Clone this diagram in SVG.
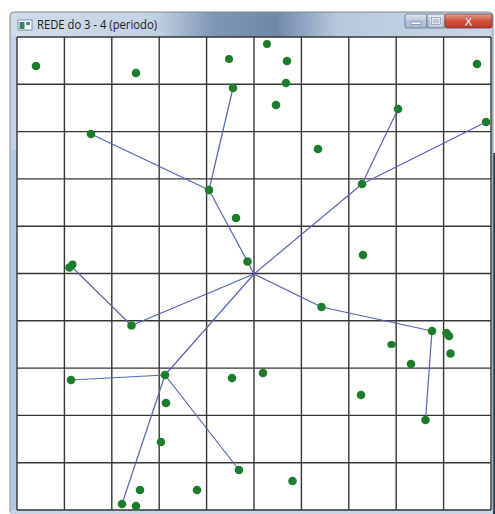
<svg xmlns="http://www.w3.org/2000/svg" width="495" height="514" viewBox="0 0 495 514">
<defs>
<linearGradient id="title" x1="0" y1="0" x2="1" y2="0">
<stop offset="0" stop-color="#cfdcea"/>
<stop offset="0.3" stop-color="#c3d2e3"/>
<stop offset="0.42" stop-color="#7f97b6"/>
<stop offset="0.55" stop-color="#6f88aa"/>
<stop offset="0.68" stop-color="#b9c9dc"/>
<stop offset="1" stop-color="#c9d7e6"/>
</linearGradient>
<linearGradient id="closeg" x1="0" y1="0" x2="0" y2="1">
<stop offset="0" stop-color="#e8a090"/>
<stop offset="0.5" stop-color="#d0503c"/>
<stop offset="1" stop-color="#c03a28"/>
</linearGradient>
<linearGradient id="btng" x1="0" y1="0" x2="0" y2="1">
<stop offset="0" stop-color="#dfe8f2"/>
<stop offset="0.5" stop-color="#b6c6d8"/>
<stop offset="1" stop-color="#a8bacd"/>
</linearGradient>
</defs>
<style>
.grid line{stroke:#363636;stroke-width:1.4}
.edge{stroke:#5565b5;stroke-width:1.2;fill:none}
.dot{fill:#1e7d2c}
.ttl{font-family:"Open Sans","Noto Sans","Liberation Sans",sans-serif;font-size:12px;fill:#1a1a1a}
</style>
<rect width="495" height="514" fill="#ffffff"/>
<!-- window frame -->
<rect x="493" y="153" width="2" height="361" fill="#2b3b4e"/>
<rect x="10" y="12" width="483" height="502" rx="4" fill="url(#title)" stroke="#7a8898" stroke-width="1"/>
<rect x="11" y="36" width="6" height="478" fill="#c3d3e4"/>
<rect x="11" y="150" width="6" height="364" fill="#b3c8de"/>
<rect x="11" y="510" width="482" height="4" fill="#c6d4e3"/>
<!-- title -->
<g id="titlebar">
<rect x="18" y="20" width="14" height="10" fill="#ffffff" stroke="#7890a8" stroke-width="1"/>
<rect x="19.5" y="22" width="5" height="7" fill="#2e8a5a"/>
<rect x="26" y="22" width="4" height="3" fill="#4a7fc0"/>
<text class="ttl" x="37" y="29" textLength="120" lengthAdjust="spacingAndGlyphs">REDE do 3 - 4 (periodo)</text>
<rect x="405" y="14" width="22" height="14" rx="2" fill="url(#btng)" stroke="#5d6f85" stroke-width="0.8"/>
<rect x="411" y="22" width="10" height="2.5" fill="#ffffff" stroke="#44556a" stroke-width="0.5"/>
<rect x="427" y="14" width="18" height="14" rx="1" fill="url(#btng)" stroke="#5d6f85" stroke-width="0.8"/>
<rect x="431.5" y="17.5" width="9" height="7" fill="none" stroke="#ffffff" stroke-width="2"/>
<rect x="431.5" y="17.5" width="9" height="7" fill="none" stroke="#44556a" stroke-width="0.5"/>
<rect x="445" y="14" width="47" height="14" rx="2" fill="url(#closeg)" stroke="#6a3a35" stroke-width="0.8"/>
<text x="468.5" y="26" text-anchor="middle" font-family="Liberation Sans,sans-serif" font-size="12" font-weight="bold" fill="#ffffff" stroke="#6a2a20" stroke-width="0.4">X</text>
</g>
<!-- client area -->
<rect x="17" y="37" width="474" height="473" fill="#ffffff"/>
<g class="grid">
<line x1="17" y1="37" x2="17" y2="510"/>
<line x1="64.4" y1="37" x2="64.4" y2="510"/>
<line x1="111.8" y1="37" x2="111.8" y2="510"/>
<line x1="159.2" y1="37" x2="159.2" y2="510"/>
<line x1="206.6" y1="37" x2="206.6" y2="510"/>
<line x1="254" y1="37" x2="254" y2="510"/>
<line x1="301.4" y1="37" x2="301.4" y2="510"/>
<line x1="348.8" y1="37" x2="348.8" y2="510"/>
<line x1="396.2" y1="37" x2="396.2" y2="510"/>
<line x1="443.6" y1="37" x2="443.6" y2="510"/>
<line x1="491" y1="37" x2="491" y2="510"/>
<line x1="17" y1="37" x2="491" y2="37"/>
<line x1="17" y1="84.3" x2="491" y2="84.3"/>
<line x1="17" y1="131.6" x2="491" y2="131.6"/>
<line x1="17" y1="178.9" x2="491" y2="178.9"/>
<line x1="17" y1="226.2" x2="491" y2="226.2"/>
<line x1="17" y1="273.5" x2="491" y2="273.5"/>
<line x1="17" y1="320.8" x2="491" y2="320.8"/>
<line x1="17" y1="368.1" x2="491" y2="368.1"/>
<line x1="17" y1="415.4" x2="491" y2="415.4"/>
<line x1="17" y1="462.7" x2="491" y2="462.7"/>
<line x1="17" y1="510" x2="491" y2="510"/>
</g>
<g id="connectors">
<line class="edge" x1="254" y1="274" x2="247.5" y2="261.5"/>
<line class="edge" x1="247.5" y1="261.5" x2="209" y2="190"/>
<line class="edge" x1="209" y1="190" x2="91" y2="134"/>
<line class="edge" x1="209" y1="190" x2="233" y2="88"/>
<line class="edge" x1="254" y1="274" x2="362" y2="184"/>
<line class="edge" x1="362" y1="184" x2="398" y2="109"/>
<line class="edge" x1="362" y1="184" x2="486" y2="122"/>
<line class="edge" x1="254" y1="274" x2="131.5" y2="325.5"/>
<line class="edge" x1="131.5" y1="325.5" x2="71" y2="266"/>
<line class="edge" x1="254" y1="274" x2="165" y2="375"/>
<line class="edge" x1="165" y1="375" x2="71" y2="380"/>
<line class="edge" x1="165" y1="375" x2="239" y2="470"/>
<line class="edge" x1="165" y1="375" x2="122" y2="504"/>
<line class="edge" x1="254" y1="274" x2="321.5" y2="307"/>
<line class="edge" x1="321.5" y1="307" x2="432" y2="331"/>
<line class="edge" x1="432" y1="331" x2="425.5" y2="420"/>
</g>
<g id="n1"><circle class="dot" cx="36" cy="66" r="4.3"/></g>
<g id="n2"><circle class="dot" cx="136" cy="73" r="4.3"/></g>
<g id="n3"><circle class="dot" cx="229" cy="59" r="4"/></g>
<g id="n4"><circle class="dot" cx="233" cy="88" r="4.3"/></g>
<g id="n5"><circle class="dot" cx="91" cy="134" r="4.3"/></g>
<g id="n6"><circle class="dot" cx="209" cy="190" r="4.3"/></g>
<g id="n7"><circle class="dot" cx="236" cy="218" r="4.3"/></g>
<g id="n8"><circle class="dot" cx="247.5" cy="261.5" r="4.3"/></g>
<g id="n9"><circle class="dot" cx="69.5" cy="267.5" r="4.3"/><circle class="dot" cx="72.5" cy="264.5" r="4"/></g>
<g id="n10"><circle class="dot" cx="267" cy="44" r="4"/></g>
<g id="n11"><circle class="dot" cx="287" cy="61" r="4.3"/></g>
<g id="n12"><circle class="dot" cx="286" cy="83" r="4.3"/></g>
<g id="n13"><circle class="dot" cx="276" cy="105" r="4.3"/></g>
<g id="n14"><circle class="dot" cx="398" cy="109" r="4.3"/></g>
<g id="n15"><circle class="dot" cx="477" cy="64" r="4.3"/></g>
<g id="n16"><circle class="dot" cx="486" cy="122" r="4.3"/></g>
<g id="n17"><circle class="dot" cx="318" cy="149" r="4.3"/></g>
<g id="n18"><circle class="dot" cx="362" cy="184" r="4.3"/></g>
<g id="n19"><circle class="dot" cx="363" cy="255" r="4.3"/></g>
<g id="n20"><circle class="dot" cx="131.5" cy="325.5" r="4.3"/></g>
<g id="n21"><circle class="dot" cx="71" cy="380" r="4.3"/></g>
<g id="n22"><circle class="dot" cx="165" cy="375" r="4.3"/></g>
<g id="n23"><circle class="dot" cx="232" cy="378" r="4.3"/></g>
<g id="n24"><circle class="dot" cx="166" cy="403" r="4.3"/></g>
<g id="n25"><circle class="dot" cx="161" cy="442" r="4.3"/></g>
<g id="n26"><circle class="dot" cx="239" cy="470" r="4.3"/></g>
<g id="n27"><circle class="dot" cx="140" cy="490" r="4.3"/></g>
<g id="n28"><circle class="dot" cx="197" cy="490" r="4.3"/></g>
<g id="n29"><circle class="dot" cx="122" cy="504" r="4.3"/></g>
<g id="n30"><circle class="dot" cx="136" cy="506" r="4.3"/></g>
<g id="n31"><circle class="dot" cx="321.5" cy="307" r="4.3"/></g>
<g id="n32"><circle class="dot" cx="432" cy="331" r="4.3"/></g>
<g id="n33"><circle class="dot" cx="446.5" cy="333" r="4.3"/><circle class="dot" cx="449" cy="336" r="4.3"/></g>
<g id="n34"><circle class="dot" cx="450.5" cy="353.5" r="4.3"/></g>
<g id="n35"><ellipse class="dot" cx="391.5" cy="344.5" rx="4.2" ry="3.5"/></g>
<g id="n36"><circle class="dot" cx="411" cy="364" r="4.3"/></g>
<g id="n37"><circle class="dot" cx="263" cy="373" r="4.3"/></g>
<g id="n38"><circle class="dot" cx="361" cy="395" r="4.3"/></g>
<g id="n39"><circle class="dot" cx="425.5" cy="420" r="4.3"/></g>
<g id="n40"><circle class="dot" cx="292.5" cy="481" r="4.3"/></g>
</svg>
